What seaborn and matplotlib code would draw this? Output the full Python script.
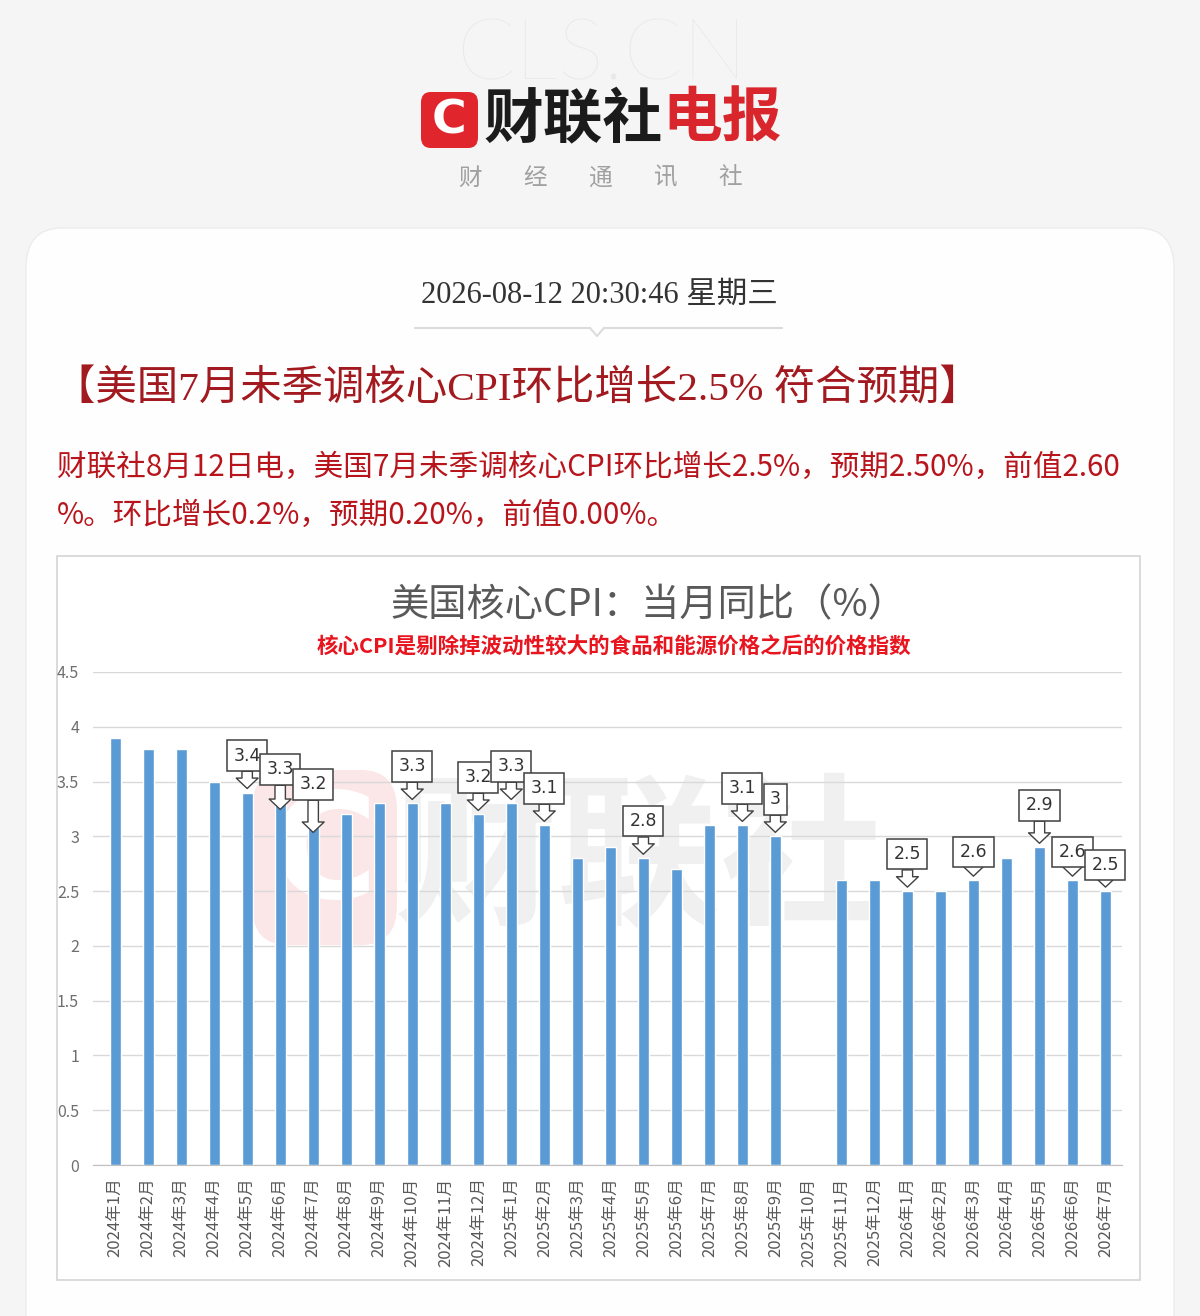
import numpy as np
import matplotlib
matplotlib.use("Agg")
import matplotlib.pyplot as plt
from matplotlib.patches import FancyBboxPatch, Rectangle
from matplotlib.transforms import offset_copy
import seaborn as sns

# ------------------ data ------------------
years = [2024] * 12 + [2025] * 12 + [2026] * 7
month_nums = list(range(1, 13)) + list(range(1, 13)) + list(range(1, 8))
months = [f"{y}年{m}月" for y, m in zip(years, month_nums)]
core_cpi = [3.9, 3.8, 3.8, 3.5, 3.4, 3.3, 3.2, 3.2, 3.3, 3.3, 3.3, 3.2,
            3.3, 3.1, 2.8, 2.9, 2.8, 2.7, 3.1, 3.1, 3.0, np.nan,
            2.6, 2.6, 2.5, 2.5, 2.6, 2.8, 2.9, 2.6, 2.5]
callout_idx = [4, 5, 6, 9, 11, 12, 13, 16, 19, 20, 24, 26, 28, 29, 30]
y_ticks = [0, 0.5, 1, 1.5, 2, 2.5, 3, 3.5, 4, 4.5]

headline = "【美国7月未季调核心CPI环比增长2.5% 符合预期】"
body_lines = ["财联社8月12日电，美国7月未季调核心CPI环比增长2.5%，预期2.50%，前值2.60",
              "%。环比增长0.2%，预期0.20%，前值0.00%。"]
stamp = "2026-08-12 20:30:46 星期三"
chart_title = "美国核心CPI：当月同比（%）"
chart_sub = "核心CPI是剔除掉波动性较大的食品和能源价格之后的价格指数"

# ------------------ style ------------------
sns.set_style("white")
plt.rcParams['font.family'] = ['Noto Sans CJK SC', 'DejaVu Sans']
CJK = ['Noto Sans CJK SC', 'DejaVu Sans']
SERIF = ['Liberation Serif', 'Noto Sans CJK SC']

W, H = 1200, 1316
fig = plt.figure(figsize=(W / 100, H / 100), dpi=100)
fig.patch.set_facecolor('#f5f5f6')


def fx(x):
    return x / W


def fy(y):
    return 1 - y / H


# page card
fig.patches.append(FancyBboxPatch((fx(26), fy(1400)), fx(1148), (1400 - 228) / H,
                                  boxstyle="round,pad=0,rounding_size=0.03",
                                  transform=fig.transFigure, fc='#fefefe', ec='#ececec',
                                  lw=1.0, zorder=-5))

# header
fig.text(fx(602), fy(56), "CLS.CN", fontsize=62, color='#e9e9e9', ha='center', va='center',
         family=['Lato', 'DejaVu Sans'], fontweight='light')
fig.patches.append(FancyBboxPatch((fx(421), fy(148)), fx(57), 56 / H,
                                  boxstyle="round,pad=0,rounding_size=0.008",
                                  transform=fig.transFigure, fc='#e0262c', ec='none'))
fig.text(fx(449.5), fy(121), "C", fontsize=34, color='white', fontweight='bold',
         ha='center', va='center', family=['DejaVu Sans'])
fig.text(fx(483), fy(120), "财联社", fontsize=43, color='#1b1b1b', fontweight='heavy',
         ha='left', va='center', family=CJK)
fig.text(fx(662), fy(120), "电报", fontsize=43, color='#d9262c', fontweight='heavy',
         ha='left', va='center', family=CJK)
for k, ch in enumerate("财经通讯社"):
    fig.text(fx(470 + 65 * k), fy(178), ch, fontsize=17, color='#a0a0a0',
             ha='center', va='center', family=CJK)

# date + divider
fig.text(fx(599), fy(295), stamp, fontsize=22, color='#333333', ha='center', va='center',
         family=SERIF)
fig.lines.append(plt.Line2D([fx(415), fx(590)], [fy(328), fy(328)], color='#dcdcdc', lw=1.5,
                            transform=fig.transFigure))
fig.lines.append(plt.Line2D([fx(590), fx(597), fx(604)], [fy(328), fy(336), fy(328)],
                            color='#dcdcdc', lw=1.5, transform=fig.transFigure))
fig.lines.append(plt.Line2D([fx(604), fx(782)], [fy(328), fy(328)], color='#dcdcdc', lw=1.5,
                            transform=fig.transFigure))

# headline and body
fig.text(fx(54), fy(389), headline, fontsize=29.8, color='#a21a1f', ha='left', va='center',
         family=SERIF)
fig.text(fx(57), fy(467), body_lines[0], fontsize=21.3, color='#b8141b', ha='left',
         va='center', family=CJK)
fig.text(fx(57), fy(515), body_lines[1], fontsize=21.3, color='#b8141b', ha='left',
         va='center', family=CJK)

# chart frame
fig.patches.append(Rectangle((fx(57), fy(1280)), fx(1083), (1280 - 556) / H,
                             transform=fig.transFigure, fc='white', ec='#d4d4d4', lw=1.2,
                             zorder=-3))
fig.text(fx(648), fy(606), chart_title, fontsize=27.5, color='#595959', ha='center', va='center',
         family=CJK, fontweight='medium')
fig.text(fx(614), fy(647), chart_sub, fontsize=15.5, color='#e8141e', ha='center', va='center',
         family=CJK, fontweight='bold')

# faint watermark behind bars
fig.patches.append(FancyBboxPatch((fx(252), fy(945)), fx(145), 175 / H,
                                  boxstyle="round,pad=0,rounding_size=0.03",
                                  transform=fig.transFigure, fc='#fbe6e8', ec='none', zorder=-2))
fig.text(fx(324), fy(858), "C", fontsize=105, color='white', fontweight='bold',
         ha='center', va='center', family=['DejaVu Sans'], zorder=-1)
fig.text(fx(640), fy(862), "财联社", fontsize=118, color='#f0f0f0', fontweight='heavy',
         ha='center', va='center', family=CJK, zorder=-1)

# ------------------ bar chart ------------------
ax = fig.add_axes([fx(93), fy(1165), 1029 / W, (1165 - 672) / H])
ax.set_facecolor('none')
sns.barplot(x=months, y=core_cpi, order=months, color='#5b9bd5', saturation=1,
            width=0.34, errorbar=None, ax=ax, zorder=3)
ax.set_xlim(-0.67, len(months) - 0.5)
ax.set_ylim(0, 4.5)
ax.set_yticks(y_ticks)
ax.set_yticklabels([f"{t:g}" for t in y_ticks], fontsize=11.5, color='#6f6f6f')
ax.set_axisbelow(True)
ax.grid(axis='y', color='#d9d9d9', lw=1.0)
ax.grid(axis='x', visible=False)
for s in ['left', 'right', 'top']:
    ax.spines[s].set_visible(False)
ax.spines['bottom'].set_color('#bfbfbf')
ax.tick_params(axis='y', length=0, pad=10)
ax.tick_params(axis='x', which='major', length=0, pad=9)
ax.set_xticks(np.arange(-0.5, len(months), 1), minor=True)
ax.tick_params(axis='x', which='minor', length=5, color='#bfbfbf', width=1)
ax.set_xticklabels(months, rotation=90, fontsize=12, color='#595959', family=CJK)
ax.set_xlabel("")
ax.set_ylabel("")

# down-arrow callouts (pixel nudges to follow the hand-placed boxes in the original)
rise = {26: 28, 29: 28, 30: 26, 28: 42, 5: 34, 6: 30}
drop = {5: 10, 6: 22}
for i in callout_idx:
    v = core_cpi[i]
    tr = offset_copy(ax.transData, fig=fig, x=0, y=4 - drop.get(i, 0), units='dots')
    ax.annotate(f"{v:g}", xy=(i, v), xycoords=tr,
                xytext=(0, rise.get(i, 37) + drop.get(i, 0) - 4), textcoords='offset pixels',
                ha='center', va='center', fontsize=12.5, color='#333333',
                family=['DejaVu Sans'], annotation_clip=False, zorder=5,
                bbox=dict(boxstyle='square,pad=0.36', fc='white', ec='#404040', lw=1.1),
                arrowprops=dict(arrowstyle='simple,head_length=0.5,head_width=1.05,tail_width=0.5',
                                fc='white', ec='#404040', lw=1.0, shrinkA=0, shrinkB=0,
                                mutation_scale=15))

fig.savefig("out.png", dpi=100, facecolor=fig.get_facecolor())
